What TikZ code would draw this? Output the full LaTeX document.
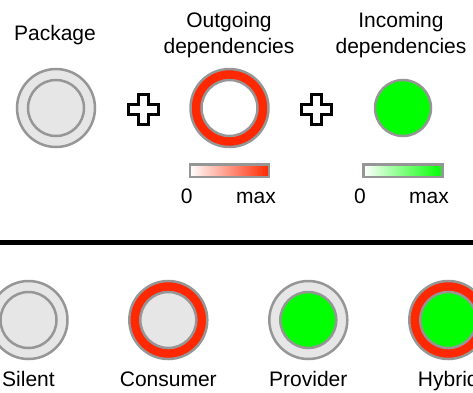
\documentclass[tikz,border=0pt]{standalone}
\usepackage{fontspec}
\setmainfont{Liberation Sans}
\definecolor{ringred}{RGB}{255,40,0}
\definecolor{diskgreen}{RGB}{0,255,0}
\definecolor{edgegray}{RGB}{150,150,150}
\definecolor{bodygray}{RGB}{230,230,230}
\begin{document}
\begin{tikzpicture}[x=1pt,y=-1pt,
  outerc/.style={circle, draw=edgegray, line width=2.5pt, minimum size=78pt, inner sep=0pt, outer sep=0pt},
  innerc/.style={circle, draw=edgegray, line width=2.5pt, minimum size=56pt, inner sep=0pt, outer sep=0pt},
  lbl/.style={font=\fontsize{21}{26}\selectfont, anchor=base, inner sep=0pt, align=center},
  small/.style={font=\fontsize{21}{26}\selectfont, anchor=base, inner sep=0pt},
  bar/.style={rectangle, draw=edgegray, line width=2.5pt, minimum width=79pt, minimum height=12.5pt, inner sep=0pt},
  plusmark/.pic={\draw[line width=3pt, fill=white, line join=miter]
     (-5,-15) -- (5,-15) -- (5,-5) -- (15,-5) -- (15,5) -- (5,5) -- (5,15)
     -- (-5,15) -- (-5,5) -- (-15,5) -- (-15,-5) -- (-5,-5) -- cycle;}
]
\useasboundingbox (0,0) rectangle (473,392);

% top row
\node[lbl] (tpkg) at (55,40) {Package};
\node[lbl] (tout) at (229,53.3) {Outgoing\\dependencies};
\node[lbl] (tin) at (401,53.3) {Incoming\\dependencies};

\node[outerc, fill=bodygray] (pkgo) at (56,108) {};
\node[innerc, fill=bodygray] (pkgi) at (56,108) {};

\pic (plusa) at (143,109) {plusmark};

\node[outerc, fill=ringred] (outo) at (229.5,108) {};
\node[innerc, fill=white] (outi) at (229.5,108) {};

\pic (plusb) at (316,109) {plusmark};

\node[innerc, fill=diskgreen] (ind) at (403,108) {};

% gradient bars
\node[bar, left color=white, right color=ringred] (barout) at (229.5,170.5) {};
\node[bar, left color=white, right color=diskgreen] (barin) at (403,170.5) {};
\node[small] (zout) at (186.7,203) {0};
\node[small] (mout) at (256,203) {max};
\node[small] (zin) at (360,203) {0};
\node[small] (min) at (429,203) {max};

% separator
\coordinate (sepl) at (0,242.5);
\coordinate (sepr) at (473,242.5);
\draw[line width=4.5pt] (sepl) -- (sepr);

% bottom row
\node[outerc, fill=bodygray] (silo) at (28.5,320) {};
\node[innerc, fill=bodygray] (sili) at (28.5,320) {};
\node[lbl] (tsil) at (28.5,386.7) {Silent};

\node[outerc, fill=ringred] (cono) at (168.3,320) {};
\node[innerc, fill=bodygray] (coni) at (168.3,320) {};
\node[lbl] (tcon) at (168.3,386.7) {Consumer};

\node[outerc, fill=bodygray] (provo) at (308.3,320) {};
\node[innerc, fill=diskgreen] (provi) at (308.3,320) {};
\node[lbl] (tprov) at (308.3,386.7) {Provider};

\node[outerc, fill=ringred] (hybo) at (448.3,320) {};
\node[innerc, fill=diskgreen] (hybi) at (448.3,320) {};
\node[lbl] (thyb) at (448.3,386.7) {Hybrid};
\end{tikzpicture}
\end{document}
